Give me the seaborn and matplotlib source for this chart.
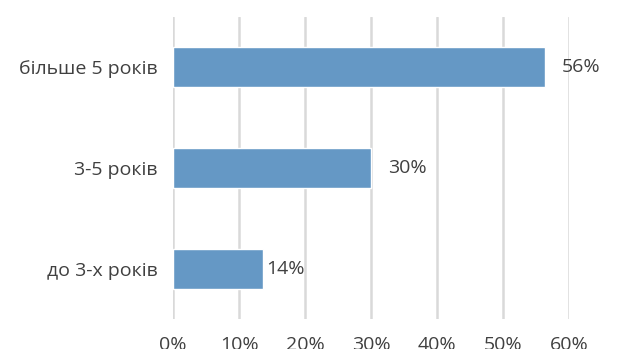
import matplotlib
matplotlib.use("Agg")
import matplotlib.pyplot as plt
import matplotlib.ticker as ticker
import pandas as pd
import seaborn as sns

# data
categories = ["більше 5 років", "3-5 років", "до 3-х років"]
shares = [56.4, 30.0, 13.7]
label_pads = [17, 17, 3]
x_ticks = [0, 10, 20, 30, 40, 50, 60]

TEXT = "#404040"
BAR = "#6598c5"


def main():
    df = pd.DataFrame({"category": categories, "share": shares})

    sns.set_style("white")
    plt.rcParams["font.family"] = ["Open Sans", "DejaVu Sans"]

    fig = plt.figure(figsize=(6.17, 3.49), dpi=100)
    ax = fig.add_axes([173 / 617, 1 - 319 / 349, (569 - 173) / 617, (319 - 17) / 349])

    sns.barplot(data=df, x="share", y="category", color=BAR, saturation=1,
                width=0.4, ax=ax, zorder=3)

    ax.set_xlim(0, 60)
    ax.set_ylim(2.5, -0.5)
    ax.set_xticks(x_ticks)
    ax.xaxis.set_major_formatter(ticker.FuncFormatter(lambda v, p: f"{v:.0f}%"))
    ax.grid(axis="x", color="#d9d9d9", linewidth=1.8, zorder=0)
    ax.grid(axis="y", visible=False)
    for s in ax.spines.values():
        s.set_visible(False)
    ax.tick_params(axis="both", length=0, labelsize=14, labelcolor=TEXT)
    ax.tick_params(axis="x", pad=12)
    ax.tick_params(axis="y", pad=11)
    ax.set_xlabel("")
    ax.set_ylabel("")

    for bar, val, pad in zip(ax.patches, shares, label_pads):
        ax.annotate(f"{val:.0f}%", (bar.get_width(), bar.get_y() + bar.get_height() / 2),
                    xytext=(pad, 0), textcoords="offset pixels", va="center",
                    ha="left", fontsize=14, color=TEXT)

    fig.savefig("out.png", dpi=100)


if __name__ == "__main__":
    main()
